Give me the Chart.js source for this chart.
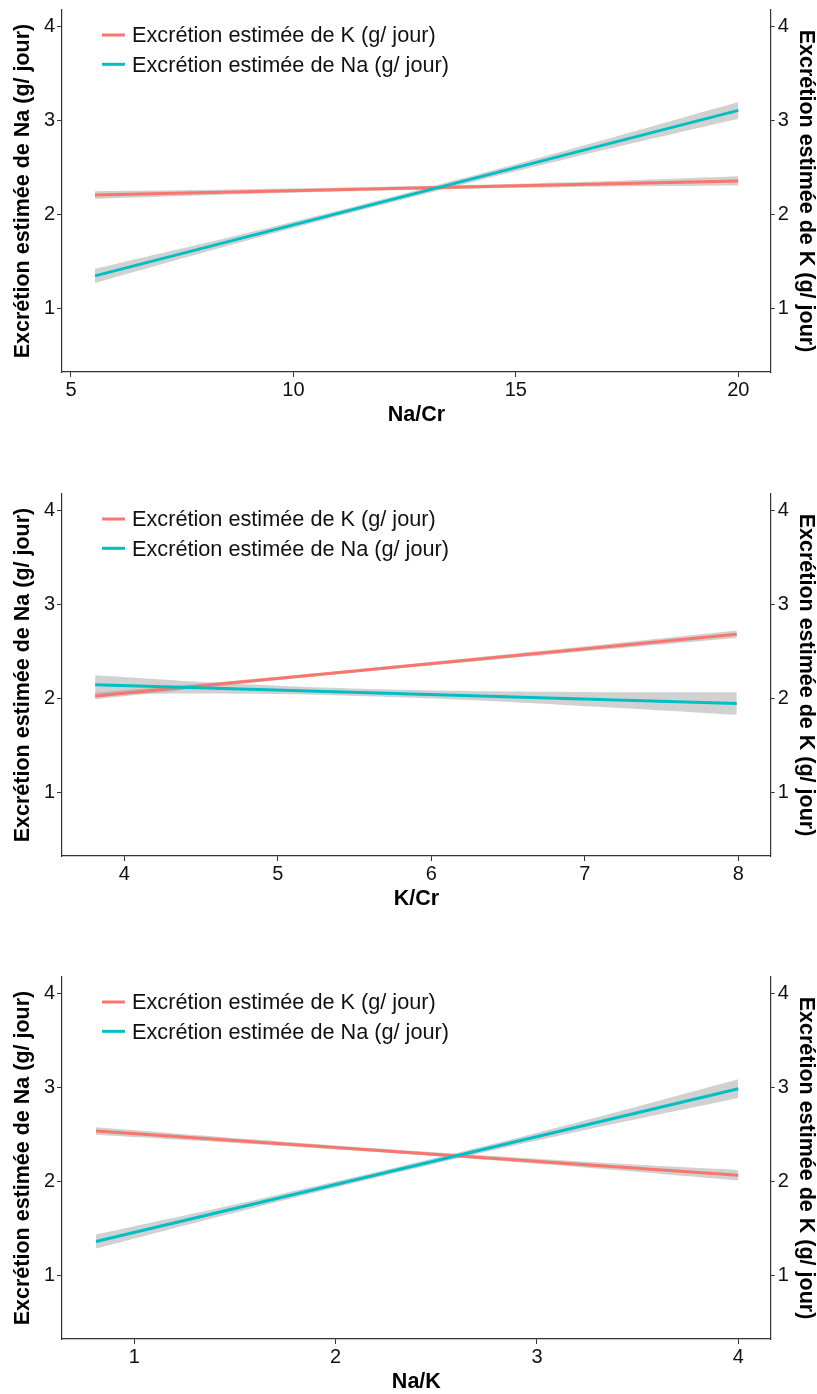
<!DOCTYPE html>
<html>
<head>
<meta charset="utf-8">
<script src="https://cdn.jsdelivr.net/npm/chart.js@4.4.1/dist/chart.umd.min.js"></script>
<style>
  html, body { margin: 0; padding: 0; background: #fff; }
  body { width: 817px; height: 1394px; position: relative; overflow: hidden; }
  .panel { position: absolute; left: 0; width: 817px; height: 426px; }
</style>
</head>
<body>
<div class="panel" style="top:0px"><canvas id="c1" width="817" height="426"></canvas></div>
<div class="panel" style="top:484px"><canvas id="c2" width="817" height="426"></canvas></div>
<div class="panel" style="top:967px"><canvas id="c3" width="817" height="426"></canvas></div>
<script>
// ---------- Data ----------
const seriesLabels = ['Excrétion estimée de K (g/ jour)', 'Excrétion estimée de Na (g/ jour)'];
const leftTitle = 'Excrétion estimée de Na (g/ jour)';
const rightTitle = 'Excrétion estimée de K (g/ jour)';
const yTicks = [1, 2, 3, 4];

// Panel 1 : Na/Cr
const p1Title = 'Na/Cr';
const p1XTicks = [5, 10, 15, 20];
const p1LineX = [5.54, 20];
const p1K = [2.21, 2.36];
const p1Na = [1.35, 3.11];
const p1BandX = [5.54, 9, 12.5, 16, 20];
const p1KLow = [2.17, 2.221, 2.262, 2.293, 2.31];
const p1KHigh = [2.25, 2.271, 2.302, 2.343, 2.41];
const p1NaLow = [1.275, 1.731, 2.167, 2.578, 3.02];
const p1NaHigh = [1.425, 1.811, 2.227, 2.668, 3.20];

// Panel 2 : K/Cr
const p2Title = 'K/Cr';
const p2XTicks = [4, 5, 6, 7, 8];
const p2LineX = [3.81, 7.99];
const p2K = [2.03, 2.685];
const p2Na = [2.15, 1.95];
const p2BandX = [3.81, 4.8, 5.8, 6.9, 7.99];
const p2KLow = [1.995, 2.165, 2.324, 2.489, 2.645];
const p2KHigh = [2.065, 2.205, 2.36, 2.539, 2.725];
const p2NaLow = [2.05, 2.053, 2.015, 1.932, 1.83];
const p2NaHigh = [2.25, 2.153, 2.095, 2.072, 2.07];

// Panel 3 : Na/K
const p3Title = 'Na/K';
const p3XTicks = [1, 2, 3, 4];
const p3LineX = [0.81, 4.0];
const p3K = [2.54, 2.07];
const p3Na = [1.365, 2.99];
const p3BandX = [0.81, 1.6, 2.4, 3.2, 4.0];
const p3KLow = [2.50, 2.399, 2.286, 2.158, 2.015];
const p3KHigh = [2.58, 2.449, 2.326, 2.218, 2.125];
const p3NaLow = [1.29, 1.727, 2.144, 2.531, 2.89];
const p3NaHigh = [1.44, 1.807, 2.204, 2.631, 3.09];

// ---------- Styles ----------
const RED = '#F8766D';
const TEAL = '#00BFC4';
const BAND = 'rgba(153,153,153,0.45)';
const FONT = '"Liberation Sans", Arial, sans-serif';
const AXIS = '#333333';

function pts(xs, ys) { return xs.map((x, i) => ({ x: x, y: ys[i] })); }

function noPad(s) { s.paddingTop = 0; s.paddingBottom = 0; s.paddingLeft = 0; s.paddingRight = 0; }

const legendPlugin = {
  id: 'insideLegend',
  afterDatasetsDraw(chart) {
    const ctx = chart.ctx;
    const colors = [RED, TEAL];
    ctx.save();
    ctx.font = '21.7px ' + FONT;
    ctx.textBaseline = 'middle';
    ctx.textAlign = 'left';
    seriesLabels.forEach((lab, i) => {
      const y = chart.chartArea.top + 25 + i * 29.3;
      ctx.strokeStyle = colors[i];
      ctx.lineWidth = 3;
      ctx.beginPath();
      ctx.moveTo(102, y);
      ctx.lineTo(125, y);
      ctx.stroke();
      ctx.fillStyle = '#111';
      ctx.fillText(lab, 132, y + 1.5);
    });
    ctx.restore();
  }
};

function makeChart(id, xTitle, xTicks, xMin, xMax, lineX, kY, naY, bandX, kLo, kHi, naLo, naHi) {
  const ds = [
    { label: seriesLabels[1], data: pts(lineX, naY), borderColor: TEAL, borderWidth: 3, pointRadius: 0, fill: false, order: 0 },
    { label: seriesLabels[0], data: pts(lineX, kY), borderColor: RED, borderWidth: 3, pointRadius: 0, fill: false, order: 1 },
    { label: 'naLo', data: pts(bandX, naLo), borderWidth: 0, borderColor: 'rgba(0,0,0,0)', pointRadius: 0, fill: false, order: 2, tension: 0.4 },
    { label: 'naHi', data: pts(bandX, naHi), borderWidth: 0, borderColor: 'rgba(0,0,0,0)', backgroundColor: BAND, pointRadius: 0, fill: '-1', order: 2, tension: 0.4 },
    { label: 'kLo', data: pts(bandX, kLo), borderWidth: 0, borderColor: 'rgba(0,0,0,0)', pointRadius: 0, fill: false, order: 3, tension: 0.4 },
    { label: 'kHi', data: pts(bandX, kHi), borderWidth: 0, borderColor: 'rgba(0,0,0,0)', backgroundColor: BAND, pointRadius: 0, fill: '-1', order: 3, tension: 0.4 }
  ];
  const tickFont = { family: FONT, size: 20 };
  const titleFont = { family: FONT, size: 21.5, weight: 'bold', lineHeight: 1 };
  return new Chart(document.getElementById(id), {
    type: 'line',
    data: { datasets: ds },
    plugins: [legendPlugin],
    options: {
      responsive: false,
      animation: false,
      devicePixelRatio: 1,
      layout: { padding: { left: 0, right: 0, top: 10, bottom: 0 } },
      plugins: { legend: { display: false }, tooltip: { enabled: false } },
      scales: {
        x: {
          type: 'linear', position: 'bottom', min: xMin, max: xMax,
          afterBuildTicks: s => { s.ticks = xTicks.map(v => ({ value: v })); },
          afterFit: s => { s.height = 54; noPad(s); },
          grid: { drawOnChartArea: false, drawTicks: true, tickLength: 5, color: AXIS, tickWidth: 1 },
          border: { display: true, color: AXIS, width: 1.2 },
          ticks: { color: '#111', font: tickFont, padding: 1, maxRotation: 0, autoSkip: false },
          title: { display: true, text: xTitle, color: '#000', font: titleFont, padding: { top: 0, bottom: 0 } }
        },
        y: {
          type: 'linear', position: 'left', min: 0.327, max: 4.178,
          afterBuildTicks: s => { s.ticks = yTicks.map(v => ({ value: v })); },
          afterFit: s => { s.width = 62; noPad(s); },
          grid: { drawOnChartArea: false, drawTicks: true, tickLength: 5, color: AXIS, tickWidth: 1 },
          border: { display: true, color: AXIS, width: 1.2 },
          ticks: { color: '#111', font: tickFont, padding: 2 },
          title: { display: true, text: leftTitle, color: '#000', font: titleFont, padding: { top: 12.5, bottom: 0 } }
        },
        y2: {
          type: 'linear', position: 'right', min: 0.327, max: 4.178,
          afterBuildTicks: s => { s.ticks = yTicks.map(v => ({ value: v })); },
          afterFit: s => { s.width = 46.3; noPad(s); },
          grid: { drawOnChartArea: false, drawTicks: true, tickLength: 4, color: AXIS, tickWidth: 1 },
          border: { display: true, color: AXIS, width: 1.2 },
          ticks: { color: '#111', font: tickFont, padding: 3 },
          title: { display: true, text: rightTitle, color: '#000', font: titleFont, padding: { top: 0.3, bottom: 0 } }
        }
      }
    }
  });
}

makeChart('c1', p1Title, p1XTicks, 4.798, 20.728, p1LineX, p1K, p1Na, p1BandX, p1KLow, p1KHigh, p1NaLow, p1NaHigh);
makeChart('c2', p2Title, p2XTicks, 3.594, 8.211, p2LineX, p2K, p2Na, p2BandX, p2KLow, p2KHigh, p2NaLow, p2NaHigh);
makeChart('c3', p3Title, p3XTicks, 0.641, 4.161, p3LineX, p3K, p3Na, p3BandX, p3KLow, p3KHigh, p3NaLow, p3NaHigh);
</script>
</body>
</html>
